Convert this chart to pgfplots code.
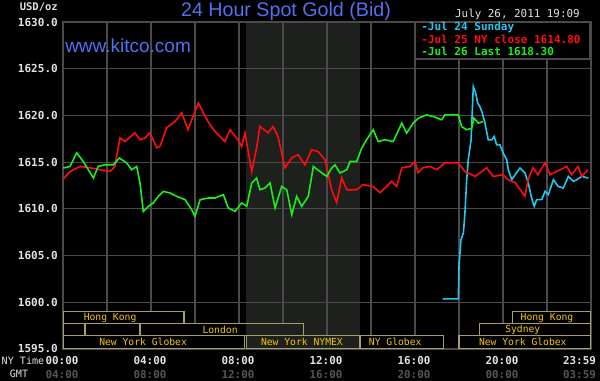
\documentclass[border=0pt]{standalone}
\usepackage{pgfplots}
\pgfplotsset{compat=1.18}
\usepackage{fontspec}
\setmainfont{Liberation Sans}
\newfontfamily\mono{DejaVu Sans Mono}
\definecolor{kblue}{RGB}{82,112,240}
\definecolor{kgrid}{RGB}{74,74,74}
\definecolor{kshade}{RGB}{30,32,30}
\definecolor{kbox}{RGB}{165,158,105}
\definecolor{klabel}{RGB}{240,200,0}
\definecolor{kcyan}{RGB}{30,200,240}
\definecolor{kred}{RGB}{255,12,12}
\definecolor{kgreen}{RGB}{25,240,25}
\definecolor{ktext}{RGB}{225,225,225}
\definecolor{kgmt}{RGB}{85,85,85}
\begin{document}
\begin{tikzpicture}
\fill[black] (0,0) rectangle (450bp,285.75bp);
\begin{scope}[x=0.75bp,y=0.75bp]
\fill[kshade] (246.3,32) rectangle (360,359);
\end{scope}
\begin{axis}[
  at={(47.25bp,24bp)}, anchor=south west, scale only axis,
  width=396bp, height=245.25bp,
  xmin=0, xmax=24, ymin=1595, ymax=1630,
  xtick={0,2,...,24}, xticklabels={},
  ytick={1595,1600,1605,1610,1615,1620,1625,1630},
  yticklabels={1595.0,1600.0,1605.0,1610.0,1615.0,1620.0,1625.0,1630.0},
  major tick length=0pt,
  grid=major, grid style={kgrid, line width=0.8bp},
  axis line style={kgrid, line width=0.8bp},
  yticklabel style={font=\mono\bfseries\fontsize{8.3}{9}\selectfont, text=ktext, inner sep=0pt, anchor=east, xshift=-3.7bp},
  clip=true,
]
% session boxes: fills
\fill[black] (axis cs:0,1599.0) rectangle (axis cs:5.5,1597.7);
\fill[black] (axis cs:20.45,1599.0) rectangle (axis cs:23.98,1597.7);
\fill[black] (axis cs:0,1597.7) rectangle (axis cs:3.5,1596.4);
\fill[black] (axis cs:3.5,1597.7) rectangle (axis cs:8.33,1596.4);
\fill[kshade] (axis cs:8.33,1597.7) rectangle (axis cs:10.95,1596.4);
\fill[black] (axis cs:18.95,1597.7) rectangle (axis cs:23.98,1596.4);
\fill[black] (axis cs:0,1596.4) rectangle (axis cs:8.27,1595.1);
\fill[kshade] (axis cs:8.33,1596.4) rectangle (axis cs:13.5,1595.1);
\fill[black] (axis cs:13.5,1596.4) rectangle (axis cs:17.3,1595.1);
\fill[black] (axis cs:18.0,1596.4) rectangle (axis cs:23.98,1595.1);
% session boxes: borders
\draw[kbox, line width=0.8bp] (axis cs:0,1599.0) rectangle (axis cs:5.5,1597.7);
\draw[kbox, line width=0.8bp] (axis cs:20.45,1599.0) rectangle (axis cs:23.98,1597.7);
\draw[kbox, line width=0.8bp] (axis cs:0,1597.7) rectangle (axis cs:1,1596.4);
\draw[kbox, line width=0.8bp] (axis cs:1,1597.7) rectangle (axis cs:3.5,1596.4);
\draw[kbox, line width=0.8bp] (axis cs:3.5,1597.7) rectangle (axis cs:10.95,1596.4);
\draw[kbox, line width=0.8bp] (axis cs:18.95,1597.7) rectangle (axis cs:23.98,1596.4);
\draw[kbox, line width=0.8bp] (axis cs:0,1596.4) rectangle (axis cs:8.27,1595.1);
\draw[kbox, line width=0.8bp] (axis cs:8.33,1596.4) rectangle (axis cs:13.5,1595.1);
\draw[kbox, line width=0.8bp] (axis cs:13.5,1596.4) rectangle (axis cs:17.3,1595.1);
\draw[kbox, line width=0.8bp] (axis cs:18.0,1596.4) rectangle (axis cs:23.98,1595.1);
\begin{scope}[every node/.style={font=\mono\fontsize{7.3}{8}\selectfont, text=klabel, inner sep=0pt}]
\node at (axis cs:2.14,1598.35) {Hong Kong};
\node at (axis cs:22.0,1598.35) {Hong Kong};
\node at (axis cs:7.14,1597.05) {London};
\node at (axis cs:20.9,1597.05) {Sydney};
\node at (axis cs:3.64,1595.75) {New York Globex};
\node at (axis cs:10.86,1595.75) {New York NYMEX};
\node at (axis cs:15.1,1595.75) {NY Globex};
\node at (axis cs:20.9,1595.75) {New York Globex};
\end{scope}
% Jul 24 Sunday
\addplot[kcyan, line width=1.2bp, mark=none] table {
17.26 1600.37
17.97 1600.37
18.00 1603.86
18.09 1606.71
18.20 1607.43
18.27 1609.56
18.35 1613.12
18.42 1615.26
18.55 1617.39
18.65 1623.09
18.76 1622.38
18.85 1621.31
18.95 1620.95
19.06 1620.25
19.18 1619.18
19.33 1617.39
19.49 1617.39
19.60 1617.75
19.71 1616.86
19.86 1616.86
20.01 1615.97
20.17 1615.26
20.24 1614.19
20.40 1613.12
20.55 1613.65
20.77 1614.37
21.00 1613.84
21.15 1612.77
21.30 1611.16
21.42 1610.27
21.53 1610.98
21.76 1610.98
21.91 1611.87
22.06 1611.52
22.29 1613.12
22.51 1612.40
22.74 1612.23
22.97 1613.47
23.20 1612.94
23.35 1613.12
23.58 1613.47
23.88 1613.30
};
% Jul 25
\addplot[kred, line width=1.2bp, mark=none] table {
0.01 1613.19
0.32 1614.00
0.77 1614.54
1.23 1614.40
1.68 1614.19
2.14 1614.00
2.36 1614.54
2.59 1617.60
2.82 1617.20
3.27 1618.14
3.50 1617.40
3.73 1617.60
3.95 1618.14
4.26 1616.54
4.41 1616.68
4.71 1618.68
5.09 1619.35
5.40 1620.28
5.68 1618.46
5.91 1619.88
6.15 1621.31
6.59 1619.35
6.91 1618.28
7.36 1617.20
7.59 1618.46
7.95 1617.40
8.12 1616.68
8.27 1618.14
8.58 1614.00
8.80 1616.54
8.95 1618.81
9.32 1618.14
9.55 1618.81
9.77 1617.75
10.09 1614.40
10.40 1615.47
10.68 1615.79
11.00 1614.72
11.30 1616.32
11.59 1616.14
11.91 1615.26
12.21 1612.05
12.44 1610.66
12.67 1613.33
12.90 1612.05
13.35 1612.05
13.64 1612.59
14.09 1612.40
14.41 1611.73
14.71 1612.40
14.94 1612.94
15.17 1612.40
15.40 1614.40
15.77 1614.54
16.00 1615.07
16.14 1613.87
16.36 1614.40
16.68 1614.54
16.99 1614.19
17.36 1614.94
17.95 1614.94
18.27 1614.00
18.73 1613.47
19.26 1614.40
19.55 1613.47
20.00 1613.65
20.23 1613.12
20.55 1612.80
21.00 1611.34
21.14 1613.12
21.36 1614.40
21.59 1613.65
21.91 1614.94
22.14 1613.65
22.90 1614.54
23.12 1613.65
23.41 1614.54
23.58 1613.47
23.86 1614.19
};
% Jul 26
\addplot[kgreen, line width=1.2bp, mark=none] table {
0.01 1614.37
0.32 1614.54
0.62 1616.00
0.92 1615.07
1.15 1614.19
1.38 1613.30
1.60 1614.54
1.91 1614.72
2.29 1614.72
2.56 1615.44
2.90 1614.90
3.12 1614.19
3.35 1614.54
3.50 1612.77
3.65 1609.73
3.88 1610.27
4.10 1610.63
4.33 1611.34
4.56 1611.87
4.86 1611.70
5.17 1611.34
5.55 1610.98
5.85 1609.91
6.00 1609.20
6.23 1610.98
6.60 1611.16
6.91 1611.16
7.29 1611.52
7.51 1610.10
7.82 1609.73
8.12 1610.63
8.35 1610.27
8.58 1612.77
8.80 1613.30
8.95 1612.05
9.18 1612.23
9.41 1612.77
9.64 1610.10
9.94 1612.40
10.17 1612.05
10.40 1609.38
10.62 1611.34
10.85 1610.27
11.15 1611.34
11.38 1614.54
11.68 1614.00
11.99 1613.47
12.21 1614.37
12.36 1614.72
12.59 1613.84
12.90 1614.19
13.05 1615.07
13.35 1615.07
13.58 1616.51
13.80 1617.40
14.10 1618.46
14.33 1617.20
14.64 1617.40
15.01 1617.20
15.40 1619.18
15.62 1618.11
15.92 1619.18
16.15 1619.71
16.53 1620.06
16.83 1619.88
17.21 1619.53
17.36 1620.06
17.97 1620.06
18.12 1618.81
18.35 1618.46
18.58 1618.64
18.68 1619.71
18.88 1619.18
19.10 1619.35
};
\end{axis}
\begin{scope}[x=0.75bp,y=0.75bp]
% legend box
\fill[black] (415,322) rectangle (590,359);
\draw[kgrid, line width=0.8bp] (415,322) rectangle (590,359);
\begin{scope}[every node/.style={font=\mono\bfseries\fontsize{8.3}{9}\selectfont, inner sep=0pt, anchor=west}]
\node[text=kcyan] at (421,354) {-Jul 24 Sunday};
\node[text=kred] at (421,342) {-Jul 25 NY close 1614.80};
\node[text=kgreen] at (421,329.5) {-Jul 26 Last 1618.30};
\end{scope}
% titles
\node[font=\fontsize{14.8}{17}\selectfont, text=kblue, inner sep=0pt] at (286,370) {24 Hour Spot Gold (Bid)};
\node[font=\fontsize{14.3}{17}\selectfont, text=kblue, inner sep=0pt, anchor=west] at (65,335) {www.kitco.com};
\node[font=\mono\fontsize{8.2}{9}\selectfont, text=ktext, inner sep=0pt, anchor=east] at (580,367) {July 26, 2011 19:09};
\node[font=\mono\bfseries\fontsize{7.9}{9}\selectfont, text=ktext, inner sep=0pt, anchor=east] at (58,374) {USD/oz};
% bottom time labels
\begin{scope}[every node/.style={font=\mono\bfseries\fontsize{8.2}{9}\selectfont, inner sep=0pt}]
\node[text=ktext] at (62,20) {00:00};
\node[text=ktext] at (150,20) {04:00};
\node[text=ktext] at (238,20) {08:00};
\node[text=ktext] at (326,20) {12:00};
\node[text=ktext] at (414,20) {16:00};
\node[text=ktext] at (502,20) {20:00};
\node[text=ktext] at (579.5,20) {23:59};
\node[text=kgmt] at (62,6) {04:00};
\node[text=kgmt] at (150,6) {08:00};
\node[text=kgmt] at (238,6) {12:00};
\node[text=kgmt] at (326,6) {16:00};
\node[text=kgmt] at (414,6) {20:00};
\node[text=kgmt] at (502,6) {00:00};
\node[text=kgmt] at (579.5,6) {03:59};
\end{scope}
\node[font=\mono\fontsize{7.6}{9}\selectfont, text=ktext, inner sep=0pt] at (23,20) {NY Time};
\node[font=\mono\fontsize{7.6}{9}\selectfont, text=ktext, inner sep=0pt] at (19,7) {GMT};
\end{scope}
\end{tikzpicture}
\end{document}
